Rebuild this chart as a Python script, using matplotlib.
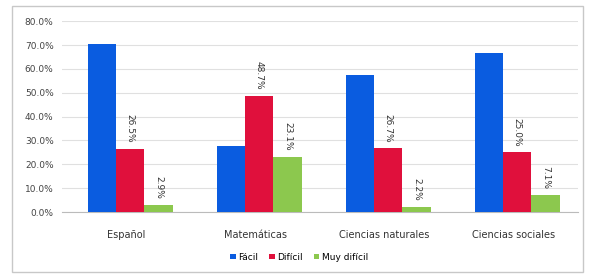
import matplotlib
matplotlib.use("Agg")
import matplotlib.pyplot as plt
import numpy as np
from matplotlib.patches import Rectangle

categories = ["Español", "Matemáticas", "Ciencias naturales", "Ciencias sociales"]
series_names = ["Fácil", "Difícil", "Muy difícil"]
facil = [70.6, 27.8, 57.4, 66.8]
dificil = [26.5, 48.7, 26.7, 25.0]
muy_dificil = [2.9, 23.1, 2.2, 7.1]
yticks = [0, 10, 20, 30, 40, 50, 60, 70, 80]

colors = ["#0a5ce0", "#e0103c", "#8cc84e"]

fig = plt.figure(figsize=(5.95, 2.78), dpi=100)
fig.patches.append(Rectangle((0.02, 0.02), 0.96, 0.96, transform=fig.transFigure,
                             fill=False, edgecolor="#c8c8c8", linewidth=1.0))
ax = fig.add_axes([0.104, 0.237, 0.867, 0.687])

x = np.arange(len(categories))
w = 0.22
series = [facil, dificil, muy_dificil]
for i, (vals, name, c) in enumerate(zip(series, series_names, colors)):
    pos = x + (i - 1) * w + 0.03
    bars = ax.bar(pos, vals, width=w, color=c, label=name, zorder=3)
    if i > 0:
        for xi, v in zip(pos, vals):
            ax.text(xi, v + 2.5, f"{v:.1f}%", rotation=270, ha="center", va="bottom",
                    fontsize=6.5, color="#333333", zorder=4)

ax.set_ylim(0, 80)
ax.set_xlim(-0.5, 3.5)
ax.set_yticks(yticks)
ax.set_yticklabels([f"{t:.1f}%" for t in yticks], fontsize=6.5, color="#444444")
ax.set_xticks(x)
ax.set_xticklabels(categories, fontsize=7, color="#333333")
ax.tick_params(axis="both", length=0, pad=6)
ax.tick_params(axis="x", pad=13)
ax.grid(axis="y", color="#e0e0e0", linewidth=0.8, zorder=0)
for s in ["top", "right", "left"]:
    ax.spines[s].set_visible(False)
ax.spines["bottom"].set_color("#bbbbbb")

ax.legend(loc="upper center", bbox_to_anchor=(0.46, -0.17), ncol=3, frameon=False,
          fontsize=6.5, handlelength=0.6, handleheight=0.6, handletextpad=0.3,
          columnspacing=1.2)

fig.savefig("out.png", dpi=100)
